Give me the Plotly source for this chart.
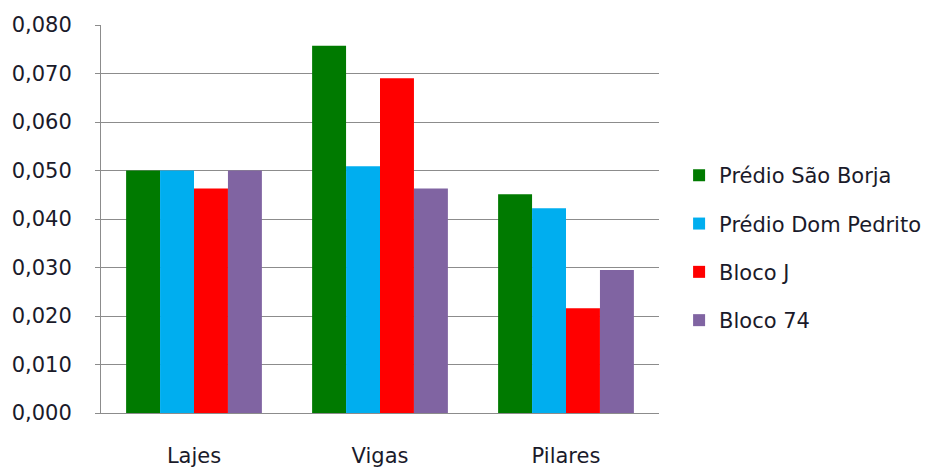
import plotly.graph_objects as go

categories = ["Lajes", "Vigas", "Pilares"]
series_names = ["Prédio São Borja", "Prédio Dom Pedrito", "Bloco J", "Bloco 74"]
sao_borja = [0.050, 0.0757, 0.0451]
dom_pedrito = [0.050, 0.0509, 0.0422]
bloco_j = [0.0463, 0.0690, 0.0216]
bloco_74 = [0.050, 0.0463, 0.0295]
colors = ["#007A00", "#00AEEF", "#FF0000", "#8064A2"]
y_ticks = [0.0, 0.01, 0.02, 0.03, 0.04, 0.05, 0.06, 0.07, 0.08]

fig = go.Figure()
for i, (name, vals) in enumerate(zip(series_names, [sao_borja, dom_pedrito, bloco_j, bloco_74])):
    fig.add_trace(go.Bar(x=categories, y=vals, name=name, marker_color=colors[i],
                         marker_line_width=0, legendgroup=str(i)))

font_family = "DejaVu Sans, sans-serif"
fig.update_layout(
    width=932, height=468,
    margin=dict(l=93, r=281, t=17, b=63),
    paper_bgcolor="white", plot_bgcolor="white",
    barmode="group", bargap=0.27, bargroupgap=0,
    separators=",.",
    font=dict(family=font_family, size=21, color="#1a1a2a"),
    showlegend=True,
    legend=dict(x=1.036, xanchor="left", y=0.425, yanchor="middle",
                font=dict(size=21, color="#1a1a2a"), tracegroupgap=18,
                itemwidth=30, bgcolor="rgba(0,0,0,0)"),
)
fig.update_yaxes(range=[0, 0.08], tickvals=y_ticks, tickformat=".3f",
                 showgrid=True, gridcolor="#8c8c8c", gridwidth=1,
                 showline=True, linecolor="#8c8c8c", linewidth=1,
                 ticks="outside", ticklen=5, tickcolor="#8c8c8c",
                 ticklabelstandoff=19, zeroline=False, automargin=False)
fig.update_xaxes(showline=True, linecolor="#8c8c8c", linewidth=1,
                 ticks="", ticklabelstandoff=24, showgrid=False, automargin=False)

fig.write_html("out.html")
